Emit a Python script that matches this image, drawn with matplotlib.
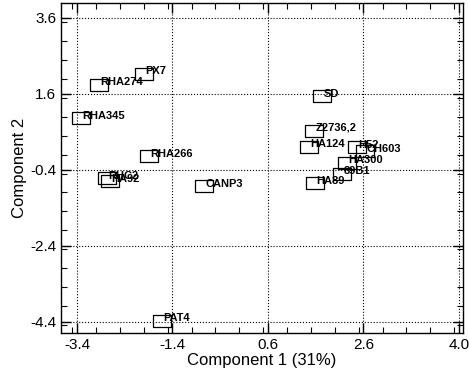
import matplotlib
matplotlib.use("Agg")
import matplotlib.pyplot as plt
from matplotlib.ticker import MultipleLocator, FixedLocator

names = ["PX7", "RHA274", "RHA345", "RHA266", "RHC2", "HA92", "CANP3", "SD",
         "Z2736,2", "HA124", "H52", "CH603", "HA300", "89B1", "HA89", "PAT4"]
comp1 = [-2.00, -2.94, -3.32, -1.89, -2.77, -2.71, -0.74, 1.73,
         1.56, 1.46, 2.46, 2.63, 2.25, 2.15, 1.58, -1.62]
comp2 = [2.13, 1.84, 0.95, -0.05, -0.63, -0.71, -0.84, 1.53,
         0.63, 0.21, 0.19, 0.08, -0.23, -0.52, -0.76, -4.38]

xtick_pos = [-3.4, -1.4, 0.6, 2.6, 4.6]
xtick_labels = ["-3.4", "-1.4", "0.6", "2.6", "4.0"]
ytick_pos = [3.6, 1.6, -0.4, -2.4, -4.4]
ytick_labels = ["3.6", "1.6", "-0.4", "-2.4", "-4.4"]

plt.rcParams['font.family'] = ['Liberation Sans', 'DejaVu Sans']

fig = plt.figure(figsize=(4.69, 3.84), dpi=100)
ax = fig.add_axes([61/469, 1-333/384, (463-61)/469, (333-3)/384])

rect = [(-1.5, -1), (1.5, -1), (1.5, 1), (-1.5, 1), (-1.5, -1)]
ax.scatter(comp1, comp2, marker=rect, s=13**2, facecolors='none',
           edgecolors='black', linewidths=0.9, zorder=3)
for n, x, y in zip(names, comp1, comp2):
    ax.annotate(n, (x, y), xytext=(1, 2), textcoords='offset points',
                ha='left', va='center', fontsize=8, fontweight='bold',
                family=['Liberation Sans Narrow', 'Liberation Sans', 'DejaVu Sans'], zorder=4)

ax.set_xlim(-3.735, 4.684)
ax.set_ylim(-4.7, 3.99)
ax.xaxis.set_major_locator(FixedLocator(xtick_pos))
ax.set_xticklabels(xtick_labels)
ax.yaxis.set_major_locator(FixedLocator(ytick_pos))
ax.set_yticklabels(ytick_labels)
ax.xaxis.set_minor_locator(MultipleLocator(0.5))
ax.yaxis.set_minor_locator(MultipleLocator(0.5))
ax.tick_params(which='both', direction='in', top=True, right=True, labelsize=11, colors='black')
ax.tick_params(which='major', length=7, width=1)
ax.tick_params(which='minor', length=4, width=0.8)
ax.grid(True, which='major', linestyle=':', color='black', linewidth=0.8)
for s in ax.spines.values():
    s.set_linewidth(1.0)
ax.set_xlabel("Component 1 (31%)", fontsize=12, labelpad=1)
ax.set_ylabel("Component 2", fontsize=12, labelpad=2)

fig.savefig("out.png", dpi=100)
